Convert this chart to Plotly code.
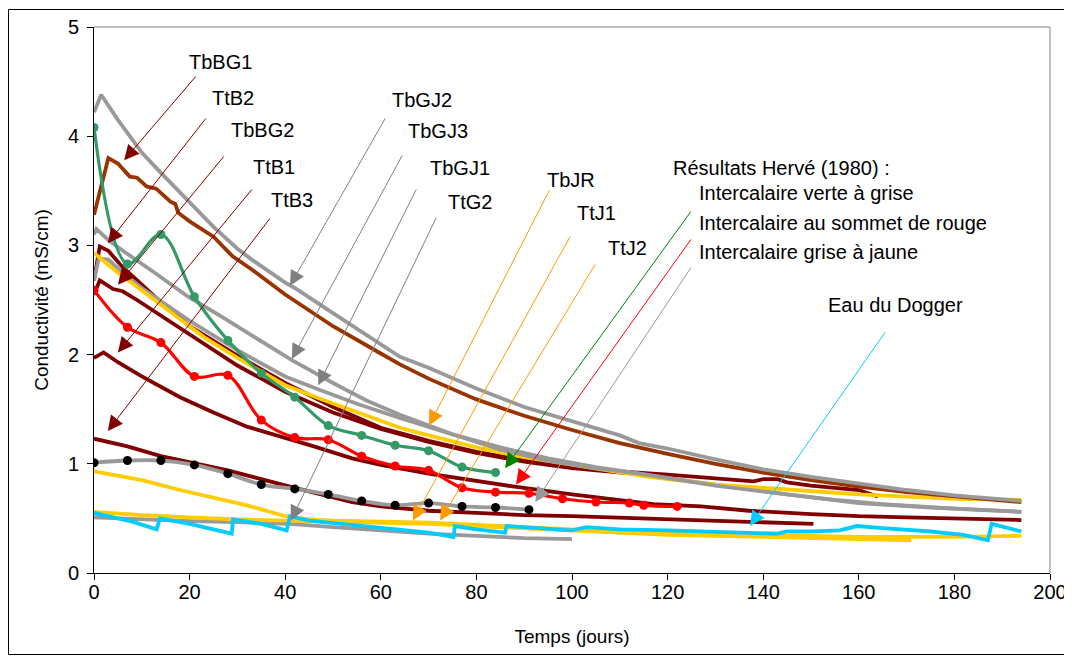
import plotly.graph_objects as go

# ---------------- data ----------------
# TbGJ2 (gray, top)
tbgj2_x = [0, 1.5, 5, 10, 13, 20, 25, 30, 33, 40, 42, 50, 60, 64, 70, 80, 90, 100, 110, 114, 120, 130, 140, 150, 160, 170, 180, 194]
tbgj2_y = [4.22, 4.38, 4.15, 3.85, 3.71, 3.40, 3.17, 2.97, 2.87, 2.66, 2.61, 2.38, 2.10, 1.98, 1.88, 1.69, 1.52, 1.39, 1.26, 1.19, 1.14, 1.04, 0.95, 0.88, 0.82, 0.76, 0.71, 0.66]
# TbBG1 (brown)
tbbg1_x = [0, 3, 5, 7.5, 9, 11, 13, 14.9, 16, 17, 17.6, 20, 25, 29, 33, 40, 50, 60, 64, 70, 80, 90, 100, 110, 120, 130, 140, 150, 160, 170, 180, 194]
tbbg1_y = [3.28, 3.80, 3.75, 3.63, 3.62, 3.54, 3.52, 3.45, 3.40, 3.38, 3.30, 3.22, 3.08, 2.90, 2.78, 2.55, 2.26, 2.01, 1.91, 1.78, 1.59, 1.44, 1.31, 1.19, 1.09, 1.00, 0.92, 0.85, 0.79, 0.74, 0.70, 0.65]
# TbGJ3 (gray)
tbgj3_x = [0, 0.5, 3, 6.4, 12.7, 19.7, 26.6, 34, 41.4, 50, 57, 64, 75, 85, 95, 105, 114, 130, 145, 160, 175, 194]
tbgj3_y = [3.10, 3.15, 3.05, 2.94, 2.75, 2.53, 2.35, 2.15, 1.95, 1.74, 1.58, 1.45, 1.27, 1.13, 1.03, 0.96, 0.91, 0.80, 0.72, 0.64, 0.60, 0.56]
# TbGJ1 (gray)
tbgj1_x = [0, 1, 3, 6, 10, 15, 20, 30, 40, 47, 55, 64, 75, 85, 95, 105, 114, 125, 135, 145, 155, 165, 180, 194]
tbgj1_y = [2.68, 2.88, 2.87, 2.75, 2.61, 2.46, 2.31, 2.04, 1.80, 1.68, 1.55, 1.42, 1.27, 1.15, 1.05, 0.97, 0.91, 0.84, 0.78, 0.72, 0.67, 0.63, 0.59, 0.56]
# TbJR (yellow)
tbjr_x = [0, 5, 12.7, 23, 30, 40, 47, 52, 64, 70, 80, 90, 100, 110, 116, 130, 140, 150, 160, 170, 180, 194]
tbjr_y = [2.93, 2.75, 2.50, 2.16, 1.97, 1.72, 1.60, 1.52, 1.33, 1.26, 1.15, 1.06, 0.99, 0.92, 0.88, 0.81, 0.78, 0.75, 0.72, 0.70, 0.68, 0.67]
# TtB2 (dark red)
ttb2_x = [0, 1.2, 3, 6, 10, 15, 20, 30, 40, 50, 60, 70, 80, 90, 100, 110, 120, 130, 138, 140, 143, 145, 150, 160, 164]
ttb2_y = [2.68, 2.99, 2.95, 2.80, 2.64, 2.44, 2.26, 1.99, 1.74, 1.52, 1.33, 1.21, 1.11, 1.03, 0.97, 0.93, 0.90, 0.87, 0.84, 0.86, 0.86, 0.83, 0.80, 0.76, 0.70]
# TbBG2 (dark red)
tbbg2_x = [0, 1.2, 4, 6, 9, 16, 20, 30, 40, 50, 60, 70, 80, 90, 100, 110, 120]
tbbg2_y = [2.55, 2.68, 2.60, 2.58, 2.50, 2.30, 2.18, 1.90, 1.66, 1.47, 1.32, 1.20, 1.10, 1.02, 0.96, 0.92, 0.88]
# TtB1 (dark red)
ttb1_x = [0, 2, 5, 10, 18, 25, 32, 40, 46, 54, 60, 70, 80, 88, 100, 110, 117, 127, 137, 150, 160, 170, 180, 194]
ttb1_y = [1.97, 2.02, 1.93, 1.80, 1.61, 1.47, 1.34, 1.24, 1.16, 1.05, 0.99, 0.91, 0.84, 0.79, 0.72, 0.67, 0.63, 0.61, 0.57, 0.54, 0.52, 0.51, 0.50, 0.485]
# TtB3 (dark red)
ttb3_x = [0, 7, 14, 28, 42, 54, 60, 70, 80, 90, 100, 116, 127, 140, 150.5]
ttb3_y = [1.23, 1.16, 1.07, 0.94, 0.78, 0.65, 0.61, 0.57, 0.55, 0.53, 0.52, 0.50, 0.485, 0.465, 0.45]
# TtJ1 (yellow)
ttj1_x = [0, 10, 18, 32, 40, 45, 50, 60, 70, 80, 90, 100, 110, 120, 130, 140, 150, 160, 171]
ttj1_y = [0.93, 0.85, 0.76, 0.62, 0.52, 0.49, 0.48, 0.47, 0.46, 0.44, 0.42, 0.40, 0.37, 0.35, 0.34, 0.33, 0.32, 0.31, 0.30]
# TtJ2 (yellow)
ttj2_x = [0, 10, 20, 30, 40, 50, 60, 70, 80, 90, 100, 110, 120, 130, 140, 150, 160, 170, 180, 194]
ttj2_y = [0.56, 0.53, 0.51, 0.49, 0.48, 0.47, 0.46, 0.45, 0.43, 0.41, 0.39, 0.37, 0.36, 0.35, 0.34, 0.34, 0.33, 0.33, 0.33, 0.34]
# TtG2 (gray, bottom)
ttg2_x = [0, 10, 20, 30, 41, 50, 60, 70, 80, 90, 100]
ttg2_y = [0.51, 0.49, 0.475, 0.465, 0.45, 0.42, 0.39, 0.36, 0.34, 0.32, 0.31]
# Eau du Dogger (cyan)
dogger_x = [0, 3, 8, 13.1, 13.8, 20, 28.8, 29.1, 35, 40.3, 41, 45, 53.6, 60, 70, 75.2, 75.5, 80, 86, 86.3, 95, 100, 103, 110, 120, 127, 135, 138, 143, 145, 150, 156, 159.6, 165, 175, 181.9, 187, 187.8, 194]
dogger_y = [0.55, 0.52, 0.47, 0.40, 0.50, 0.45, 0.36, 0.49, 0.45, 0.39, 0.52, 0.48, 0.44, 0.41, 0.37, 0.33, 0.43, 0.40, 0.37, 0.43, 0.40, 0.39, 0.42, 0.40, 0.39, 0.38, 0.37, 0.37, 0.36, 0.38, 0.38, 0.39, 0.43, 0.41, 0.38, 0.35, 0.30, 0.45, 0.38]
# Hervé (1980)
herve_verte_x = [0, 7, 14, 21, 28, 35, 42, 49, 56, 63, 70, 77, 84]
herve_verte_y = [4.08, 2.83, 3.10, 2.53, 2.13, 1.83, 1.61, 1.35, 1.26, 1.17, 1.12, 0.97, 0.92]
herve_rouge_x = [0, 7, 14, 21, 28, 35, 42, 49, 56, 63, 70, 77, 84, 91, 98, 105, 112, 115, 122]
herve_rouge_y = [2.59, 2.25, 2.11, 1.80, 1.81, 1.40, 1.24, 1.22, 1.07, 0.98, 0.94, 0.78, 0.74, 0.73, 0.68, 0.65, 0.64, 0.62, 0.61]
herve_jaune_x = [0, 7, 14, 21, 28, 35, 42, 49, 56, 63, 70, 77, 84, 91]
herve_jaune_y = [1.01, 1.03, 1.03, 0.99, 0.91, 0.81, 0.77, 0.72, 0.66, 0.62, 0.64, 0.61, 0.60, 0.58]

x_ticks = [0, 20, 40, 60, 80, 100, 120, 140, 160, 180, 200]
y_ticks = [0, 1, 2, 3, 4, 5]

# ---------------- styles ----------------
GRAY = "#999999"
DARKRED = "#800000"
BROWN = "#993300"
YELLOW = "#FFCC00"
GREEN = "#339966"
RED = "#FF0000"
CYAN = "#00CCFF"
FONT = "Liberation Sans, Arial, sans-serif"
LW = 3.8

fig = go.Figure()

def add_line(x, y, color, name, width=LW, shape="linear", marker=None, mode="lines"):
    kw = dict(x=x, y=y, mode=mode, name=name, line=dict(color=color, width=width, shape=shape),
              hoverinfo="name+x+y")
    if marker is not None:
        kw["marker"] = marker
    fig.add_trace(go.Scatter(**kw))

add_line(ttg2_x, ttg2_y, GRAY, "TtG2")
add_line(ttj2_x, ttj2_y, YELLOW, "TtJ2")
add_line(ttj1_x, ttj1_y, YELLOW, "TtJ1")
add_line(dogger_x, dogger_y, CYAN, "Eau du Dogger")
add_line(ttb3_x, ttb3_y, DARKRED, "TtB3")
add_line(ttb1_x, ttb1_y, DARKRED, "TtB1")
add_line(tbbg2_x, tbbg2_y, DARKRED, "TbBG2")
add_line(ttb2_x, ttb2_y, DARKRED, "TtB2")
add_line(tbgj1_x, tbgj1_y, GRAY, "TbGJ1")
add_line(tbjr_x, tbjr_y, YELLOW, "TbJR")
add_line(tbgj3_x, tbgj3_y, GRAY, "TbGJ3")
add_line(tbbg1_x, tbbg1_y, BROWN, "TbBG1")
add_line(tbgj2_x, tbgj2_y, GRAY, "TbGJ2")
add_line(herve_jaune_x, herve_jaune_y, GRAY, "Intercalaire grise à jaune", width=3.8, shape="spline",
         marker=dict(color="black", size=9), mode="lines+markers")
add_line(herve_rouge_x, herve_rouge_y, RED, "Intercalaire au sommet de rouge", width=3.2, shape="spline",
         marker=dict(color=RED, size=9), mode="lines+markers")
add_line(herve_verte_x, herve_verte_y, GREEN, "Intercalaire verte à grise", width=3.2, shape="spline",
         marker=dict(color=GREEN, size=9), mode="lines+markers")

# ---------------- annotations ----------------
# pixel positions below are window pixels of the reference; plot area spans x 94..1050, y 27..573
def px_to_x(px):
    return (px - 94) / 956 * 200

def px_to_y(py):
    return (573 - py) / 546 * 5

# (label, label center px x, label center px y, head day, head value, tail px x, tail px y, colour)
arrows = [
    ("TbBG1", 220, 62, 6.3, 3.78, 197, 75, DARKRED),
    ("TtB2", 233, 98, 2.9, 3.02, 207, 117, DARKRED),
    ("TbBG2", 262, 130, 5.0, 2.64, 225, 155, DARKRED),
    ("TtB1", 274, 167, 5.0, 2.02, 253, 188, DARKRED),
    ("TtB3", 292, 200, 2.9, 1.30, 271, 217, DARKRED),
    ("TbGJ2", 422, 100, 41.0, 2.63, 386, 117, "#808080"),
    ("TbGJ3", 438, 131, 41.4, 1.96, 403, 154, "#808080"),
    ("TbGJ1", 460, 168, 46.9, 1.72, 417, 188, "#808080"),
    ("TtG2", 470, 202, 41.2, 0.48, 437, 216, "#808080"),
    ("TbJR", 571, 180, 70.1, 1.35, 550, 189, "#FF9900"),
    ("TtJ1", 596, 213, 66.7, 0.48, 571, 235, "#FF9900"),
    ("TtJ2", 627, 248, 72.4, 0.48, 596, 263, "#FF9900"),
]
extra_arrows = [
    (86.0, 0.96, 692, 210, "#008000"),
    (88.3, 0.81, 692, 238, "#FF0000"),
    (92.3, 0.65, 692, 266, "#999999"),
    (137.2, 0.43, 886, 331, "#00CCFF"),
]

ARROWSIZE = 3.0
annotations = []
for label, lx, ly, hx, hy, tx, ty, col in arrows:
    annotations.append(dict(x=hx, y=hy, xref="x", yref="y", ax=px_to_x(tx), ay=px_to_y(ty),
                            axref="x", ayref="y", text="", showarrow=True, arrowhead=2,
                            arrowsize=ARROWSIZE, arrowwidth=1, arrowcolor=col))
    annotations.append(dict(x=px_to_x(lx), y=px_to_y(ly), xref="x", yref="y", text=label,
                            showarrow=False, xanchor="center", yanchor="middle",
                            font=dict(family=FONT, size=20, color="black")))
for hx, hy, tx, ty, col in extra_arrows:
    annotations.append(dict(x=hx, y=hy, xref="x", yref="y", ax=px_to_x(tx), ay=px_to_y(ty),
                            axref="x", ayref="y", text="", showarrow=True, arrowhead=2,
                            arrowsize=ARROWSIZE, arrowwidth=1, arrowcolor=col))

texts = [
    ("Résultats Hervé (1980) :", 671, 168),
    ("Intercalaire verte à grise", 697, 193),
    ("Intercalaire au sommet de rouge", 697, 223),
    ("Intercalaire grise à jaune", 697, 252),
    ("Eau du Dogger", 826, 305),
]
for t, lx, ly in texts:
    annotations.append(dict(x=px_to_x(lx), y=px_to_y(ly), xref="x", yref="y", text=t,
                            showarrow=False, xanchor="left", yanchor="middle",
                            font=dict(family=FONT, size=20, color="black")))

shapes = [
    dict(type="line", xref="paper", yref="paper", x0=0, x1=1, y0=1, y1=1,
         line=dict(color="#808080", width=1)),
    dict(type="line", xref="paper", yref="paper", x0=1, x1=1, y0=0, y1=1,
         line=dict(color="#808080", width=1)),
    dict(type="rect", xref="paper", yref="paper",
         x0=(8.5 - 94) / 956, x1=(1064.5 - 94) / 956, y0=(573 - 654.5) / 546, y1=(573 - 9.5) / 546,
         line=dict(color="black", width=1), fillcolor="rgba(0,0,0,0)", layer="below"),
]

# the page body has an 8 px margin, so the figure is offset by 8 px in the window
W, H = 1064, 653
fig.update_layout(
    width=W, height=H,
    margin=dict(l=86, r=22, t=19, b=88, autoexpand=False),
    paper_bgcolor="white", plot_bgcolor="white",
    showlegend=False,
    font=dict(family=FONT, size=20, color="black"),
    annotations=annotations,
    shapes=shapes,
    xaxis=dict(range=[0, 200], tickvals=x_ticks, ticktext=[str(v) for v in x_ticks],
               showgrid=False, zeroline=False, showline=True, linecolor="black", linewidth=1,
               ticks="outside", ticklen=6, tickcolor="black", automargin=False,
               tickfont=dict(family=FONT, size=20), ticklabelstandoff=-5,
               title=dict(text="Temps (jours)", font=dict(family=FONT, size=19), standoff=27)),
    yaxis=dict(range=[0, 5], tickvals=y_ticks, ticktext=[str(v) for v in y_ticks],
               showgrid=False, zeroline=False, showline=True, linecolor="black", linewidth=1,
               ticks="outside", ticklen=6, tickcolor="black", automargin=False,
               tickfont=dict(family=FONT, size=20), ticklabelstandoff=4,
               title=dict(text="Conductivité (mS/cm)", font=dict(family=FONT, size=19), standoff=14)),
)

fig.write_html("out.html")
